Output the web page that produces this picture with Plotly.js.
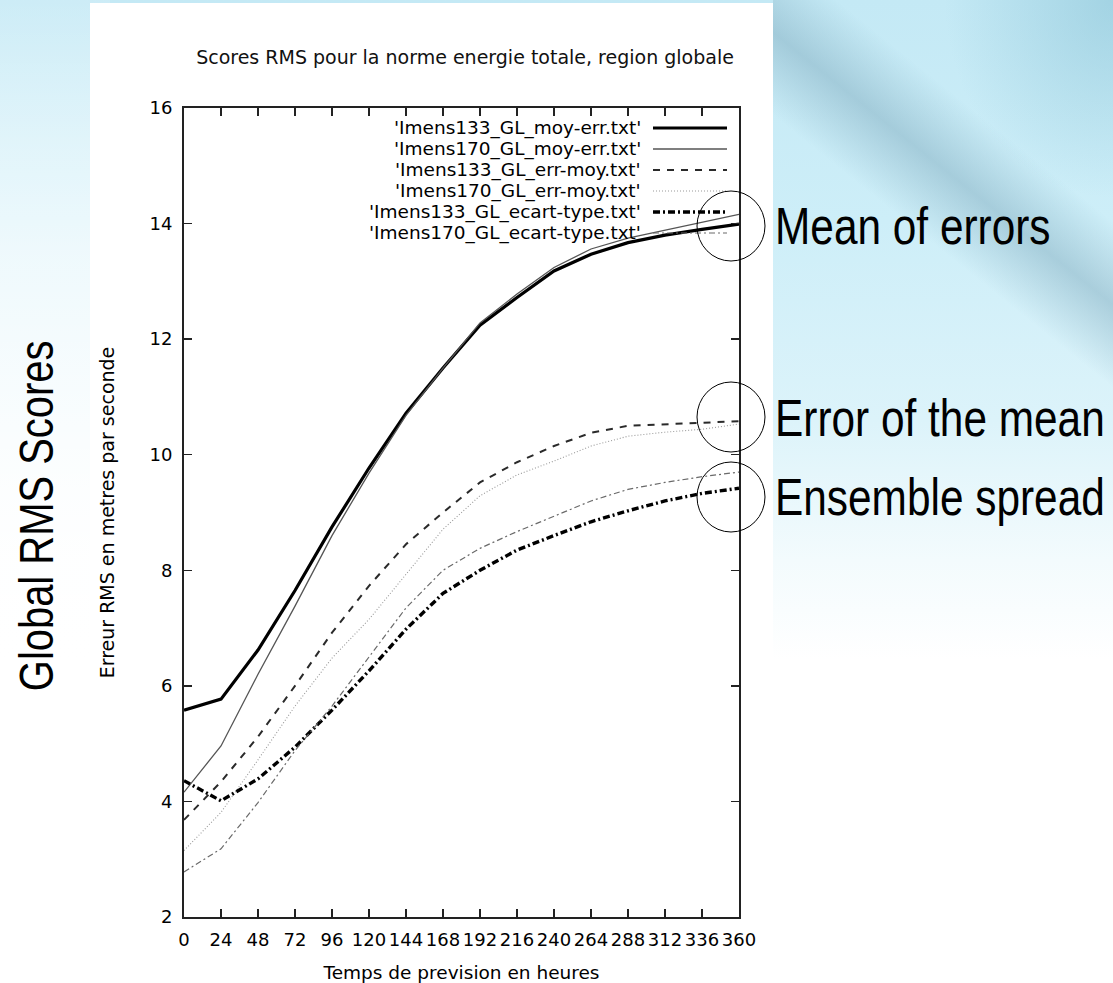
<!DOCTYPE html>
<html>
<head>
<meta charset="utf-8">
<script src="https://cdn.plot.ly/plotly-3.0.1.min.js"></script>
<style>
html,body{margin:0;padding:0;width:1113px;height:983px;overflow:hidden;background:#fff;}
#bg1{position:absolute;left:0;top:0;width:1113px;height:983px;
 background:linear-gradient(to bottom,#c4e9f5 0px,#cdeef8 220px,#dcf3fa 420px,#f3fbfd 560px,#ffffff 660px);}
#bg2{position:absolute;left:0;top:0;width:110px;height:983px;
 background:linear-gradient(to bottom,rgba(255,255,255,0.15) 0px,rgba(255,255,255,0.65) 250px,rgba(255,255,255,0.85) 450px,rgba(255,255,255,1) 700px);}
#bg3{position:absolute;left:773px;top:0;width:340px;height:420px;
 background:linear-gradient(38.7deg,rgba(120,165,185,0) 44%,rgba(120,165,185,0.45) 56%,rgba(120,165,185,0) 68%);}
#bg4{position:absolute;left:773px;top:0;width:340px;height:400px;
 background:radial-gradient(ellipse at 100% 0%,rgba(130,190,210,0.5) 0%,rgba(130,190,210,0) 35%);}
#chart{position:absolute;left:0;top:0;width:1113px;height:983px;}
</style>
</head>
<body>
<div id="bg1"></div><div id="bg2"></div><div id="bg3"></div><div id="bg4"></div>
<div id="chart"></div>
<script>
// ---- data ----
const hours = [0,24,48,72,96,120,144,168,192,216,240,264,288,312,336,360];
const xTickLabels = ['0','24','48','72','96','120','144','168','192','216','240','264','288','312','336','360'];
const yTickVals = [2,4,6,8,10,12,14,16];
const yTickLabels = ['2','4','6','8','10','12','14','16'];

const seriesNames = [
  "'Imens133_GL_moy-err.txt'",
  "'Imens170_GL_moy-err.txt'",
  "'Imens133_GL_err-moy.txt'",
  "'Imens170_GL_err-moy.txt'",
  "'Imens133_GL_ecart-type.txt'",
  "'Imens170_GL_ecart-type.txt'"
];
const moyErr133 = [5.58,5.77,6.62,7.65,8.75,9.77,10.72,11.50,12.24,12.72,13.18,13.47,13.67,13.80,13.90,13.99];
const moyErr170 = [4.16,4.96,6.20,7.38,8.60,9.68,10.68,11.50,12.28,12.78,13.24,13.56,13.75,13.89,14.02,14.16];
const errMoy133 = [3.68,4.34,5.12,6.00,6.92,7.73,8.45,9.00,9.52,9.87,10.15,10.38,10.50,10.53,10.55,10.58];
const errMoy170 = [3.15,3.81,4.72,5.65,6.48,7.15,7.93,8.71,9.29,9.65,9.89,10.15,10.32,10.39,10.44,10.53];
const ecart133  = [4.36,4.01,4.39,4.94,5.58,6.26,6.98,7.60,8.00,8.35,8.60,8.84,9.03,9.20,9.33,9.42];
const ecart170  = [2.78,3.18,3.98,4.88,5.65,6.50,7.35,8.00,8.38,8.67,8.94,9.20,9.40,9.52,9.62,9.70];
const seriesValues = [moyErr133, moyErr170, errMoy133, errMoy170, ecart133, ecart170];

const titleText = 'Scores RMS pour la norme energie totale, region globale';
const xTitle = 'Temps de prevision en heures';
const yTitle = 'Erreur RMS en metres par seconde';
const slideNotes = ['Mean of errors', 'Error of the mean', 'Ensemble spread'];
const slideLeft = 'Global RMS Scores';

// ---- styles ----
const lineStyles = [
  {color:'#000000', width:3.2, dash:'solid'},
  {color:'#555555', width:1.3, dash:'solid'},
  {color:'#2a2a2a', width:2.0, dash:'7px,7px'},
  {color:'#9a9a9a', width:1.1, dash:'1px,2px'},
  {color:'#000000', width:3.4, dash:'7px,3px,2px,3px'},
  {color:'#6a6a6a', width:1.2, dash:'6px,3px,2px,3px'}
];

// pixel -> paper helpers (plot area 184..739 x 108..917)
const PL=184, PR=739, PT=108, PB=917;
const px = p => (p-PL)/(PR-PL);
const py = p => (PB-p)/(PB-PT);

const traces = seriesValues.map((vals,i)=>({
  x: hours, y: vals, type:'scatter', mode:'lines', name: seriesNames[i],
  line: Object.assign({}, lineStyles[i]), showlegend:false, hoverinfo:'skip'
}));

const chartFont = 'DejaVu Sans, Liberation Sans, sans-serif';
const slideFont = 'Liberation Sans, Arial, sans-serif';

const shapes = [
  {type:'rect', xref:'paper', yref:'paper', x0:px(90), x1:px(773), y0:py(990), y1:py(3),
   fillcolor:'#ffffff', line:{width:0}, layer:'below'}
];
const annotations = [];
// gnuplot-style key: text right-aligned, line sample on the right
seriesNames.forEach((n,i)=>{
  const yy = 128 + i*21;
  annotations.push({xref:'paper', yref:'paper', x:px(643), y:py(yy), xanchor:'right', yanchor:'middle',
    text:n, showarrow:false, font:{family:chartFont, size:18.5, color:'#000'}});
  shapes.push({type:'line', xref:'paper', yref:'paper', x0:px(653), x1:px(727), y0:py(yy), y1:py(yy),
    line:Object.assign({}, lineStyles[i]), layer:'above'});
});
// circles
[[731,226],[731,417],[731,497]].forEach(c=>{
  shapes.push({type:'circle', xref:'paper', yref:'paper', x0:px(c[0]-34), x1:px(c[0]+34),
    y0:py(c[1]+35), y1:py(c[1]-35), line:{color:'#000', width:1}, layer:'above'});
});
// slide notes
[226,418,497].forEach((p,i)=>{
  annotations.push({xref:'paper', yref:'paper', x:px(773), y:py(p), xanchor:'left', yanchor:'middle',
    text:slideNotes[i], showarrow:false, font:{family:slideFont, size:52, color:'#000'}});
});
annotations.push({xref:'paper', yref:'paper', x:px(36), y:py(516), xanchor:'center', yanchor:'middle',
  text:slideLeft, textangle:-90, showarrow:false, font:{family:slideFont, size:49, color:'#000'}});

const axisCommon = {
  showline:true, linecolor:'#222', linewidth:2, mirror:'ticks',
  ticks:'inside', ticklen:8, tickwidth:1.5, tickcolor:'#222',
  showgrid:false, zeroline:false, automargin:false, fixedrange:true,
  tickfont:{family:chartFont, size:18, color:'#000'}
};

const layout = {
  width:1113, height:983,
  margin:{l:PL, r:1113-PR, t:PT, b:983-PB, pad:0},
  paper_bgcolor:'rgba(0,0,0,0)', plot_bgcolor:'rgba(0,0,0,0)',
  showlegend:false,
  title:{text:titleText, x:465/1113, xref:'container', xanchor:'center',
         y:1-57/983, yref:'container', yanchor:'middle',
         font:{family:chartFont, size:19, color:'#111'}},
  xaxis:Object.assign({}, axisCommon, {
    range:[0,360], tickmode:'array', tickvals:hours, ticktext:xTickLabels,
    ticklabelstandoff:5,
    title:{text:xTitle, standoff:18, font:{family:chartFont, size:18.5, color:'#000'}}
  }),
  yaxis:Object.assign({}, axisCommon, {
    range:[2,16], tickmode:'array', tickvals:yTickVals, ticktext:yTickLabels,
    ticklabelstandoff:6,
    title:{text:yTitle, standoff:30, font:{family:chartFont, size:19, color:'#000'}}
  }),
  shapes:shapes, annotations:annotations
};

Plotly.newPlot('chart', traces, layout, {displayModeBar:false, staticPlot:true}).then(gd=>{
  // the slide's text is a condensed face: compress it horizontally
  gd.querySelectorAll('text.annotation-text').forEach(t=>{
    const s = t.textContent;
    if (slideNotes.indexOf(s) >= 0) {
      t.style.transformBox = 'fill-box';
      t.style.transformOrigin = '0% 50%';
      t.style.transform = 'scaleX(0.815)';
    } else if (s === slideLeft) {
      t.style.transformBox = 'fill-box';
      t.style.transformOrigin = '50% 50%';
      t.style.transform = 'scaleX(0.815)';
    }
  });
});
</script>
</body>
</html>
